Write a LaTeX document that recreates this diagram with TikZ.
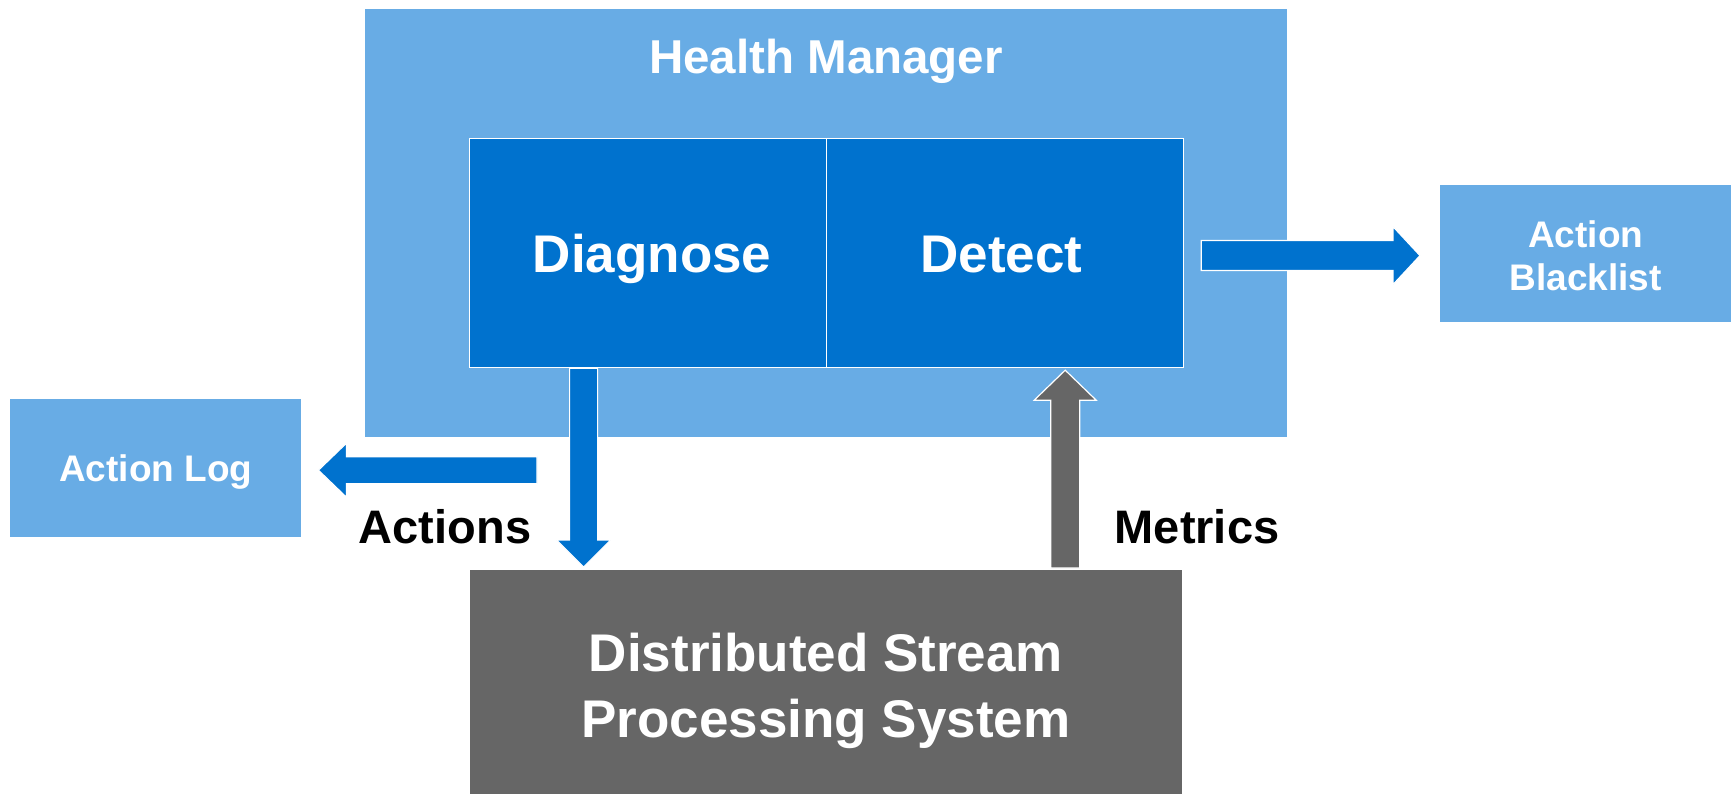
\documentclass[tikz,border=0pt]{standalone}
\usepackage{fontspec}
\setmainfont{Liberation Sans}
\usetikzlibrary{calc}
\definecolor{lightblue}{HTML}{68ACE5}
\definecolor{darkblue}{HTML}{0072CE}
\definecolor{darkgray}{HTML}{666666}
\newcommand\hblock[6]{%
  \filldraw[#1] let \p1=(#2), \p2=(#3), \n1={sign(\x2-\x1)*#6} in
   (\x1,\y1+#4pt) -- (\x2-\n1*1pt,\y1+#4pt) -- (\x2-\n1*1pt,\y1+#5pt) -- (\x2,\y1)
   -- (\x2-\n1*1pt,\y1-#5pt) -- (\x2-\n1*1pt,\y1-#4pt) -- (\x1,\y1-#4pt) -- cycle;}
\newcommand\vblock[6]{%
  \filldraw[#1] let \p1=(#2), \p2=(#3), \n1={sign(\y2-\y1)*#6} in
   (\x1+#4pt,\y1) -- (\x1+#4pt,\y2-\n1*1pt) -- (\x1+#5pt,\y2-\n1*1pt) -- (\x1,\y2)
   -- (\x1-#5pt,\y2-\n1*1pt) -- (\x1-#4pt,\y2-\n1*1pt) -- (\x1-#4pt,\y1) -- cycle;}
\begin{document}
\begin{tikzpicture}[x=1pt,y=-1pt,
  box/.style={rectangle,anchor=north west,inner sep=0pt,text=white,align=center,font=\bfseries},
  outer/.style={box,fill=lightblue},
  inner/.style={box,fill=darkblue,draw=white,line width=1.2pt},
  sys/.style={box,fill=darkgray},
  capsc/.style={text height=#1,text depth=0pt},
  txt/.style={inner sep=0pt,text=white,align=center},
  bluearrow/.style={fill=darkblue,draw=white,line width=1.2pt},
  grayarrow/.style={fill=darkgray,draw=white,line width=1.2pt},
  lbl/.style={inner sep=0pt,font=\fontsize{47}{52}\selectfont\bfseries,text=black}]
\useasboundingbox (0,0) rectangle (1734,794);
\fill[white] (0,0) rectangle (1734,794);
\node[outer,minimum width=922pt,minimum height=428pt] (hm) at (365,9) {};
\node[txt,capsc=34pt,font=\fontsize{47.5}{52}\selectfont\bfseries] (hmlabel) at (826,57) {Health Manager};
\node[inner,capsc=38pt,minimum width=357pt,minimum height=229pt,font=\fontsize{53}{60}\selectfont\bfseries] (diag) at (469,138) {\hspace*{8pt}Diagnose};
\node[inner,capsc=38pt,minimum width=357pt,minimum height=229pt,font=\fontsize{53}{60}\selectfont\bfseries] (detect) at (826,138) {Detect\hspace*{7pt}};
\node[outer,minimum width=291pt,minimum height=137pt] (blacklist) at (1440,185) {};
\node[txt,font=\fontsize{37}{43}\selectfont\bfseries] (bltext) at ($(blacklist.center)+(0,2.5)$) {Action\\Blacklist};
\node[outer,capsc=26.5pt,minimum width=291pt,minimum height=138pt,font=\fontsize{37}{42}\selectfont\bfseries] (log) at (10,399) {Action Log};
\node[sys,minimum width=712pt,minimum height=226pt] (dsps) at (470,570) {};
\node[txt,font=\fontsize{53}{66}\selectfont\bfseries] (dspstext) at (826,691) {Distributed Stream\\Processing System};
\node[lbl] (actions) at (445,527) {Actions};
\node[lbl] (metrics) at (1197,527) {Metrics};
% arrows
\hblock{bluearrow}{$(detect.east)+(17,2.5)$}{$(blacklist.west)+(-20,1.5)$}{15}{29}{27}
\hblock{bluearrow}{$(diag.south west)+(68,102)$}{$(log.east)+(17,1)$}{13.5}{27}{28}
\vblock{bluearrow}{$(diag.south)+(-64.5,0)$}{$(dsps.north)+(0,-3)$}{14}{27}{27}
\vblock{grayarrow}{$(dsps.north)+(239,-2)$}{$(detect.south)+(0,2)$}{14.5}{31}{30}
\end{tikzpicture}
\end{document}
